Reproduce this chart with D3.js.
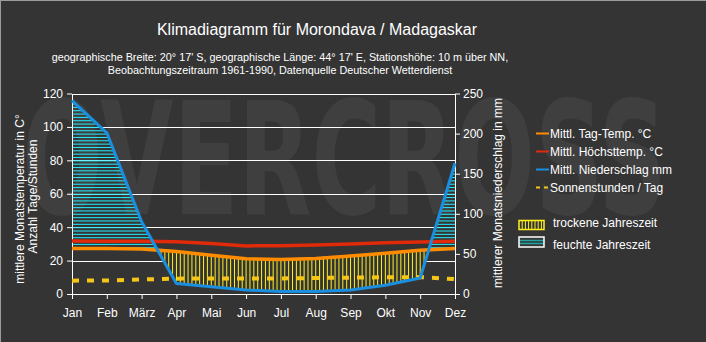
<!DOCTYPE html>
<html>

<head>
    <meta charset="UTF-8">
    <style>
        body {
            margin: 0;
            background: #343434;
        }

        svg {
            display: block;
            font-family: "Liberation Sans", Arial, sans-serif;
        }

        .axis path,
        .axis line {
            stroke: #fff;
            stroke-width: 1px;
        }

        .axis text {
            fill: #fff;
            font-size: 12px;
        }
    </style>
</head>

<body>
    <svg></svg>

    <script src="https://d3js.org/d3.v7.min.js"></script>

    <script>
        // monthly climate values for Morondava
        let months = ["Jan", "Feb", "März", "Apr", "Mai", "Jun", "Jul", "Aug", "Sep", "Okt", "Nov", "Dez"];
        let tagTemp = [27.3, 27.3, 26.9, 25.4, 23.2, 21.1, 20.6, 21.2, 22.7, 24.4, 26.2, 27.3];
        let maxTemp = [31.7, 31.6, 31.6, 31.3, 30.2, 28.8, 28.9, 29.4, 29.9, 30.6, 31.1, 31.5];
        let rain = [241, 201, 90, 13, 9, 5, 3, 3, 5, 11, 20, 163];
        let sun = [8.0, 8.1, 8.7, 9.2, 9.3, 9.3, 9.3, 9.6, 9.8, 10.0, 10.1, 8.9];

        let tempTicks = [0, 20, 40, 60, 80, 100, 120];
        let rainTicks = [0, 50, 100, 150, 200, 250];

        let legendLines = [
            { label: "Mittl. Tag-Temp. °C", color: "#ff8c00", dash: null },
            { label: "Mittl. Höchsttemp. °C", color: "#e02a0a", dash: null },
            { label: "Mittl. Niederschlag mm", color: "#1a8fe0", dash: null },
            { label: "Sonnenstunden / Tag", color: "#f5c518", dash: "4,4" }
        ];

        let width = 706, height = 342;
        let x0 = 72, x1 = 455, yTop = 93.5, yBot = 294;
        let bg = "#343434";

        let svg = d3.select("svg")
            .attr("width", width)
            .attr("height", height);

        let x = d3.scalePoint().domain(months).range([x0, x1]);
        let yT = d3.scaleLinear().domain([0, 120]).range([yBot, yTop]);
        let yP = d3.scaleLinear().domain([0, 250]).range([yBot, yTop]);

        svg.append("rect").attr("width", width).attr("height", height).attr("fill", bg);
        svg.append("line").attr("x1", 0).attr("x2", width).attr("y1", 0.5).attr("y2", 0.5).attr("stroke", "#9c9c9c");
        svg.append("line").attr("x1", 0.5).attr("x2", 0.5).attr("y1", 0).attr("y2", height).attr("stroke", "#9c9c9c");

        // watermark behind everything
        svg.append("text")
            .attr("x", 22)
            .attr("y", 214)
            .attr("textLength", 645)
            .attr("lengthAdjust", "spacingAndGlyphs")
            .style("font-family", "'DejaVu Sans Condensed', 'DejaVu Sans', sans-serif")
            .style("font-weight", "bold")
            .style("font-size", "156px")
            .attr("fill", "#3f3f3f")
            .text("OVERCROSS");

        // titles
        svg.append("text")
            .attr("x", 317).attr("y", 35)
            .attr("text-anchor", "middle")
            .attr("fill", "#fff")
            .style("font-size", "16px")
            .text("Klimadiagramm für Morondava / Madagaskar");

        let sub = ["geographische Breite: 20° 17' S, geographische Länge: 44° 17' E, Stationshöhe: 10 m über NN,",
            "Beobachtungszeitraum 1961-1990, Datenquelle Deutscher Wetterdienst"];
        svg.selectAll(".sub")
            .data(sub)
            .enter()
            .append("text")
            .attr("class", "sub")
            .attr("x", 280)
            .attr("y", (d, i) => 61 + i * 13.3)
            .attr("text-anchor", "middle")
            .attr("fill", "#fff")
            .style("font-size", "10.8px")
            .text(d => d);

        // horizontal grid
        svg.append("g")
            .selectAll("line")
            .data(tempTicks.slice(1))
            .enter()
            .append("line")
            .attr("x1", x0).attr("x2", x1)
            .attr("y1", d => Math.round(yT(d)) + 0.5)
            .attr("y2", d => Math.round(yT(d)) + 0.5)
            .attr("stroke", "#fff");

        // points along the chart, with extra points where rain crosses the temperature line
        let pts = [];
        months.forEach((m, i) => {
            let a = { x: x(m), yt: yT(tagTemp[i]), yp: yP(rain[i]) };
            pts.push(a);
            if (i < months.length - 1) {
                let b = { x: x(months[i + 1]), yt: yT(tagTemp[i + 1]), yp: yP(rain[i + 1]) };
                let d0 = a.yp - a.yt, d1 = b.yp - b.yt;
                if (d0 * d1 < 0) {
                    let t = d0 / (d0 - d1);
                    let yy = a.yt + t * (b.yt - a.yt);
                    pts.push({ x: a.x + t * (b.x - a.x), yt: yy, yp: yy });
                }
            }
        });

        let humidArea = d3.area().x(d => d.x).y0(d => d.yt).y1(d => Math.min(d.yp, d.yt));
        let dryArea = d3.area().x(d => d.x).y0(d => d.yt).y1(d => Math.max(d.yp, d.yt));

        let defs = svg.append("defs");
        defs.append("clipPath").attr("id", "humid").append("path").attr("d", humidArea(pts));
        defs.append("clipPath").attr("id", "dry").append("path").attr("d", dryArea(pts));

        // wet season: horizontal cyan hatching
        svg.append("g")
            .attr("clip-path", "url(#humid)")
            .selectAll("line")
            .data(d3.range(1, 60))
            .enter()
            .append("line")
            .attr("x1", x0).attr("x2", x1)
            .attr("y1", d => yT(d * 2) + 0.5)
            .attr("y2", d => yT(d * 2) + 0.5)
            .attr("stroke", "#22eeff")
            .attr("stroke-width", 1);

        // dry season: opaque fill, vertical yellow hatching
        svg.append("path").attr("d", dryArea(pts)).attr("fill", bg);
        let step = x.step() / 9;
        svg.append("g")
            .attr("clip-path", "url(#dry)")
            .selectAll("line")
            .data(d3.range(0, 100))
            .enter()
            .append("line")
            .attr("x1", d => x0 + d * step)
            .attr("x2", d => x0 + d * step)
            .attr("y1", yTop).attr("y2", yBot)
            .attr("stroke", "#fff21a")
            .attr("stroke-width", 1);

        // axes
        svg.append("g")
            .attr("class", "axis")
            .attr("transform", "translate(0," + yBot + ")")
            .call(d3.axisBottom(x).tickSize(5).tickSizeOuter(0).tickPadding(9.5));

        svg.append("g")
            .attr("class", "axis")
            .attr("transform", "translate(" + x0 + ",0)")
            .call(d3.axisLeft(yT).tickValues(tempTicks).tickSize(5).tickSizeOuter(0).tickPadding(4));

        svg.append("g")
            .attr("class", "axis")
            .attr("transform", "translate(" + x1 + ",0)")
            .call(d3.axisRight(yP).tickValues(rainTicks).tickSize(5).tickSizeOuter(0).tickPadding(3));

        // data lines
        let sunLine = d3.line().x((d, i) => x(months[i])).y(d => yT(d));
        svg.append("path")
            .attr("d", sunLine(sun))
            .attr("fill", "none")
            .attr("stroke", "#f5c518")
            .attr("stroke-width", 4)
            .attr("stroke-dasharray", "7,8");

        let tempLine = d3.line().x((d, i) => x(months[i])).y(d => yT(d));
        svg.append("path")
            .attr("d", tempLine(maxTemp))
            .attr("fill", "none")
            .attr("stroke", "#e02a0a")
            .attr("stroke-width", 3.5);

        svg.append("path")
            .attr("d", tempLine(tagTemp))
            .attr("fill", "none")
            .attr("stroke", "#ff8c00")
            .attr("stroke-width", 3.5);

        let rainLine = d3.line().x((d, i) => x(months[i])).y(d => yP(d));
        svg.append("path")
            .attr("d", rainLine(rain))
            .attr("fill", "none")
            .attr("stroke", "#1a8fe0")
            .attr("stroke-width", 3)
            .attr("stroke-linejoin", "round");

        // axis titles
        let titles = [
            { t: "mittlere Monatstemperatur in C°", x: 23.5, y: 199 },
            { t: "Anzahl Tage/Stunden", x: 37, y: 196.5 },
            { t: "mittlerer Monatsniederschlag in mm", x: 501.5, y: 193 }
        ];
        svg.selectAll(".ytitle")
            .data(titles)
            .enter()
            .append("text")
            .attr("class", "ytitle")
            .attr("transform", d => "translate(" + d.x + "," + d.y + ") rotate(-90)")
            .attr("text-anchor", "middle")
            .attr("fill", "#fff")
            .style("font-size", "12px")
            .text(d => d.t);

        // legend
        let legend = svg.append("g").attr("transform", "translate(536,133.5)");
        let items = legend.selectAll("g")
            .data(legendLines)
            .enter()
            .append("g")
            .attr("transform", (d, i) => "translate(0," + i * 18 + ")");
        items.append("line")
            .attr("x1", 0).attr("x2", 13)
            .attr("stroke", d => d.color)
            .attr("stroke-width", 2)
            .attr("stroke-dasharray", d => d.dash);
        items.append("text")
            .attr("x", 14).attr("y", 4.3)
            .attr("fill", "#fff")
            .style("font-size", "12px")
            .text(d => d.label);

        // season swatches
        let dry = svg.append("g").attr("transform", "translate(519,220.5)");
        dry.selectAll("line")
            .data(d3.range(1, 8))
            .enter()
            .append("line")
            .attr("x1", d => d * 3.2).attr("x2", d => d * 3.2)
            .attr("y1", 0).attr("y2", 9)
            .attr("stroke", "#fff21a");
        dry.append("rect").attr("width", 25).attr("height", 9).attr("fill", "none").attr("stroke", "#fff21a").attr("stroke-width", 1.5);
        dry.append("text").attr("x", 34).attr("y", 6.8).attr("fill", "#fff").style("font-size", "12px").text("trockene Jahreszeit");

        let wet = svg.append("g").attr("transform", "translate(519,237)");
        wet.selectAll("line")
            .data([3.5, 6.5])
            .enter()
            .append("line")
            .attr("x1", 0).attr("x2", 25)
            .attr("y1", d => d).attr("y2", d => d)
            .attr("stroke", "#1fa3a3")
            .attr("stroke-width", 1.5);
        wet.append("rect").attr("width", 25).attr("height", 10).attr("fill", "none").attr("stroke", "#fff").attr("stroke-width", 1.5);
        wet.append("text").attr("x", 34).attr("y", 11.8).attr("fill", "#fff").style("font-size", "12px").text("feuchte Jahreszeit");
    </script>

</body>

</html>
